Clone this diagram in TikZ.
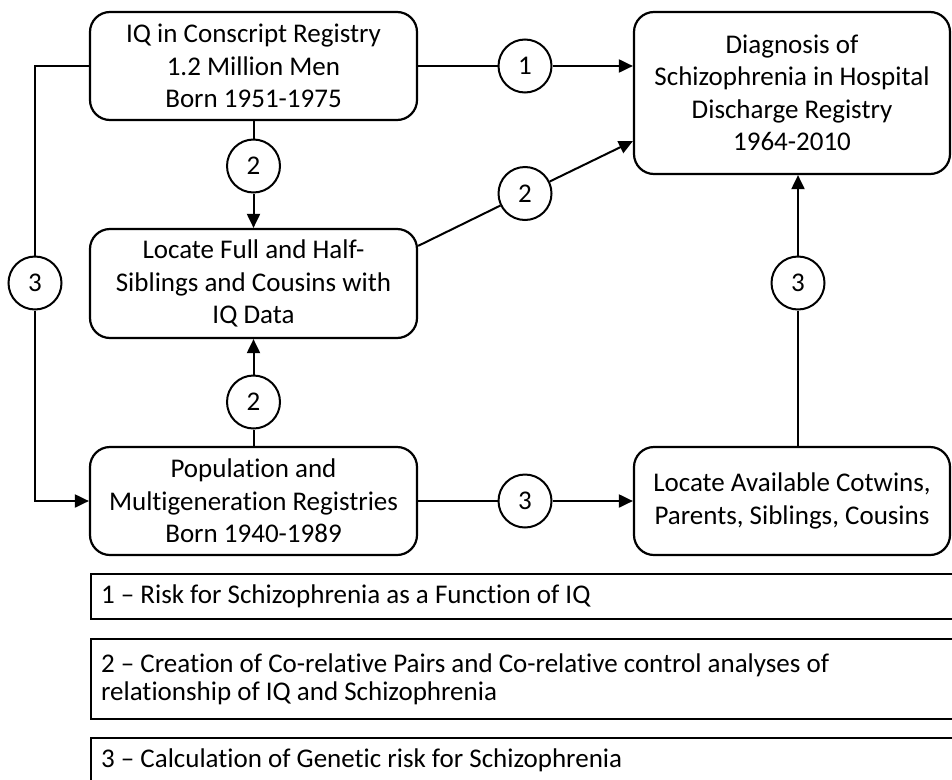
\documentclass[tikz,border=0pt]{standalone}
\usepackage{fontspec}
\setmainfont{Carlito}[Ligatures=NoCommon]
\usetikzlibrary{arrows.meta}

\begin{document}
\begin{tikzpicture}[x=1pt, y=-1pt,
	box/.style={shape=rectangle, rounded corners=20pt, draw=black, line width=2.2pt, align=center, inner sep=0pt, font=\fontsize{27}{32.4}\selectfont},
	num/.style={shape=circle, draw=black, line width=2pt, minimum size=53pt, inner sep=0pt, font=\fontsize{27}{32}\selectfont},
	key/.style={shape=rectangle, draw=black, line width=2.2pt, anchor=north west, text width=880pt, inner xsep=10pt, inner ysep=0pt, align=flush left, font=\fontsize{27}{28.5}\selectfont},
	link/.style={line width=2pt},
	arr/.style={line width=2pt, -{Triangle[length=14pt, width=13pt]}}]

	\useasboundingbox (0, 0) rectangle (952, 779);

	\node[box, minimum width=327pt, minimum height=108pt] (A) at (253.5, 66)  {IQ in Conscript Registry\\1.2 Million Men\\Born 1951-1975};
	\node[box, minimum width=316pt, minimum height=162pt] (B) at (792, 93)    {Diagnosis of\\Schizophrenia in Hospital\\Discharge Registry\\1964-2010};
	\node[box, minimum width=327pt, minimum height=109pt] (C) at (253.5, 283.5) {Locate Full and Half-\\Siblings and Cousins with\\IQ Data};
	\node[box, minimum width=327pt, minimum height=108pt] (D) at (253.5, 501) {Population and\\Multigeneration Registries\\Born 1940-1989};
	\node[box, minimum width=316pt, minimum height=108pt] (E) at (792, 501)   {Locate Available Cotwins,\\Parents, Siblings, Cousins};

	\node[num] (c1)  at (525, 66)    {1};
	\node[num] (c2a) at (253.5, 166) {2};
	\node[num] (c2d) at (525, 193.5) {2};
	\node[num] (c2b) at (253.5, 402) {2};
	\node[num] (c3l) at (35, 283)    {3};
	\node[num] (c3r) at (798, 283)   {3};
	\node[num] (c3b) at (525, 501)   {3};

	\draw[link] (A.east) -- (c1);
	\draw[arr] (c1) -- (c1 -| B.west);
	\draw[link] (A.south) -- (c2a);
	\draw[arr] (c2a) -- (C.north);
	\draw[link] ([yshift=-18pt]C.north east) -- (c2d);
	\draw[arr] (c2d) -- ([yshift=34pt]B.south west);
	\draw[link] (D.north) -- (c2b);
	\draw[arr] (c2b) -- (C.south);
	\draw[link] (A.west) -| (c3l.north);
	\draw[arr] (c3l.south) |- (D.west);
	\draw[link] (D.east) -- (c3b);
	\draw[arr] (c3b) -- (E.west);
	\draw[link] (c3r |- E.north) -- (c3r);
	\draw[arr] (c3r) -- (c3r |- B.south);

	\node[key, minimum height=45pt] (k1) at (90, 573) {1 – Risk for Schizophrenia as a Function of IQ};
	\node[key, minimum height=80pt] (k2) at (90, 638) {2 – Creation of Co-relative Pairs and Co-relative control analyses of\\relationship of IQ and Schizophrenia};
	\node[key, minimum height=45pt] (k3) at (90, 737) {3 – Calculation of Genetic risk for Schizophrenia};

\end{tikzpicture}
\end{document}
